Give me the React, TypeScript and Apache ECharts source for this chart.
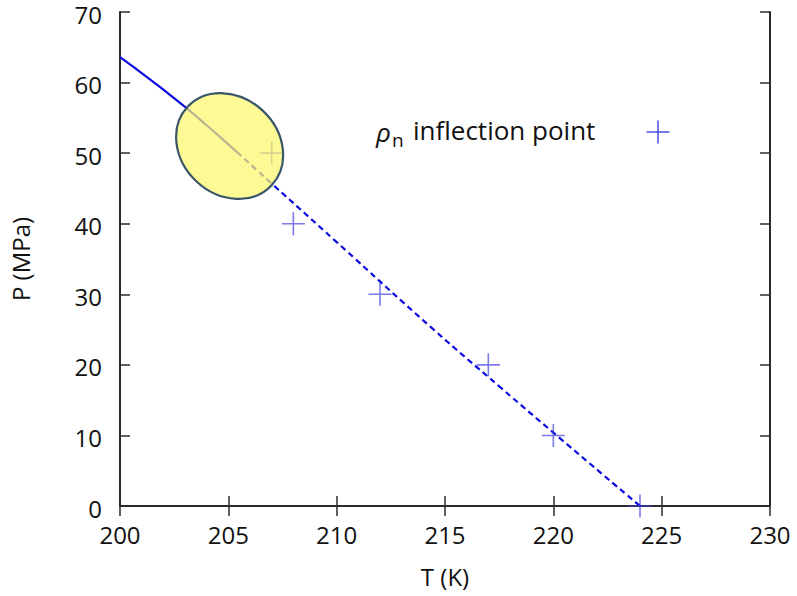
import React, { useEffect, useRef } from 'react';
import * as echarts from 'echarts';

// Inflection points of rho_n
const inflectionT = [207, 208, 212, 217, 220, 224];
const inflectionP = [50, 40, 30, 20, 10, 0];

// Solid (computed) line
const solidT = [200, 201, 202, 203, 204, 205, 205.4];
const solidP = [63.6, 61.35, 59.0, 56.55, 53.95, 51.25, 50.15];

// Dashed (extrapolated) line
const dashT = [205.4, 207, 210, 214.4, 217.6, 220, 224];
const dashP = [50.15, 45.7, 37.4, 25.2, 16.7, 10.4, 0];

// Highlight ellipse centre (data coords)
const ellipseCenter = [205.06, 51.0];

const xTicks = { min: 200, max: 230, interval: 5 };
const yTicks = { min: 0, max: 70, interval: 10 };

const FONT = 'Open Sans';
const AXIS_COLOR = '#2b2b2b';
const LINE_COLOR = '#0a0ae0';
const CROSS_COLOR = 'rgba(60,60,225,0.85)';
const CROSS_PATH = 'path://M10,0 L10,20 M0,10 L20,10';

export default function App() {
  const ref = useRef<HTMLDivElement>(null);

  useEffect(() => {
    if (!ref.current) return;
    document.body.style.margin = '0';
    const chart = echarts.init(ref.current, null, { renderer: 'svg' });

    const axisCommon = {
      type: 'value' as const,
      axisLine: { show: true, lineStyle: { color: AXIS_COLOR, width: 2 } },
      axisTick: { show: true, inside: true, length: 10, lineStyle: { color: AXIS_COLOR, width: 1.5 } },
      splitLine: { show: false },
    };

    chart.setOption({
      animation: false,
      backgroundColor: '#ffffff',
      grid: { left: 116, right: 27, top: 12, bottom: 90 },
      xAxis: [
        {
          ...axisCommon,
          position: 'bottom',
          min: xTicks.min,
          max: xTicks.max,
          interval: xTicks.interval,
          name: 'T (K)',
          nameLocation: 'middle',
          nameGap: 58,
          nameTextStyle: { fontFamily: FONT, fontSize: 24, color: '#111' },
          axisLabel: { margin: 16, fontFamily: FONT, fontSize: 24, color: '#111' },
        },
        {
          ...axisCommon,
          position: 'top',
          min: xTicks.min,
          max: xTicks.max,
          interval: xTicks.interval,
          axisLabel: { show: false },
        },
      ],
      yAxis: [
        {
          ...axisCommon,
          position: 'left',
          min: yTicks.min,
          max: yTicks.max,
          interval: yTicks.interval,
          name: 'P (MPa)',
          nameLocation: 'middle',
          nameGap: 88,
          nameTextStyle: { fontFamily: FONT, fontSize: 24, color: '#111' },
          axisLabel: {
            margin: 18,
            fontFamily: FONT,
            fontSize: 24,
            verticalAlign: 'top',
            lineHeight: 4,
            color: '#111',
          },
        },
        {
          ...axisCommon,
          position: 'right',
          min: yTicks.min,
          max: yTicks.max,
          interval: yTicks.interval,
          axisLabel: { show: false },
        },
      ],
      series: [
        {
          name: 'computed',
          type: 'line',
          data: solidT.map((t, i) => [t, solidP[i]]),
          smooth: true,
          showSymbol: false,
          lineStyle: { color: LINE_COLOR, width: 2.2 },
          z: 3,
        },
        {
          name: 'extrapolated',
          type: 'line',
          data: dashT.map((t, i) => [t, dashP[i]]),
          smooth: true,
          showSymbol: false,
          lineStyle: { color: LINE_COLOR, width: 2.2, type: [6, 4] },
          z: 3,
        },
        {
          name: 'ρn inflection point',
          type: 'scatter',
          data: inflectionT.map((t, i) => [t, inflectionP[i]]),
          symbol: CROSS_PATH,
          symbolSize: 23,
          itemStyle: { color: 'transparent', borderColor: CROSS_COLOR, borderWidth: 1.6 },
          z: 4,
        },
      ],
    });

    const [cx, cy] = chart.convertToPixel({ gridIndex: 0 }, ellipseCenter) as number[];
    const legendCrossX = 658;
    const legendCrossY = 132;

    chart.setOption({
      graphic: [
        {
          type: 'ellipse',
          x: cx,
          y: cy,
          rotation: (-43 * Math.PI) / 180,
          shape: { cx: 0, cy: 0, rx: 57.5, ry: 48.5 },
          style: { fill: 'rgba(252,248,110,0.72)', stroke: '#3a5668', lineWidth: 2.2 },
          z: 100,
        },
        {
          type: 'text',
          x: 376,
          y: 132,
          style: { text: 'ρ', font: `italic 26px "${FONT}"`, fill: '#111', textVerticalAlign: 'middle' },
          z: 100,
        },
        {
          type: 'text',
          x: 392,
          y: 140,
          style: { text: 'n', font: `19px "${FONT}"`, fill: '#111', textVerticalAlign: 'middle' },
          z: 100,
        },
        {
          type: 'text',
          x: 413,
          y: 130,
          style: { text: 'inflection point', font: `26px "${FONT}"`, fill: '#111', textVerticalAlign: 'middle' },
          z: 100,
        },
        {
          type: 'line',
          shape: { x1: legendCrossX - 11.5, y1: legendCrossY, x2: legendCrossX + 11.5, y2: legendCrossY },
          style: { stroke: CROSS_COLOR, lineWidth: 1.6 },
          z: 100,
        },
        {
          type: 'line',
          shape: { x1: legendCrossX, y1: legendCrossY - 11.5, x2: legendCrossX, y2: legendCrossY + 11.5 },
          style: { stroke: CROSS_COLOR, lineWidth: 1.6 },
          z: 100,
        },
      ],
    });

    return () => chart.dispose();
  }, []);

  return <div ref={ref} style={{ width: 797, height: 596 }} />;
}
